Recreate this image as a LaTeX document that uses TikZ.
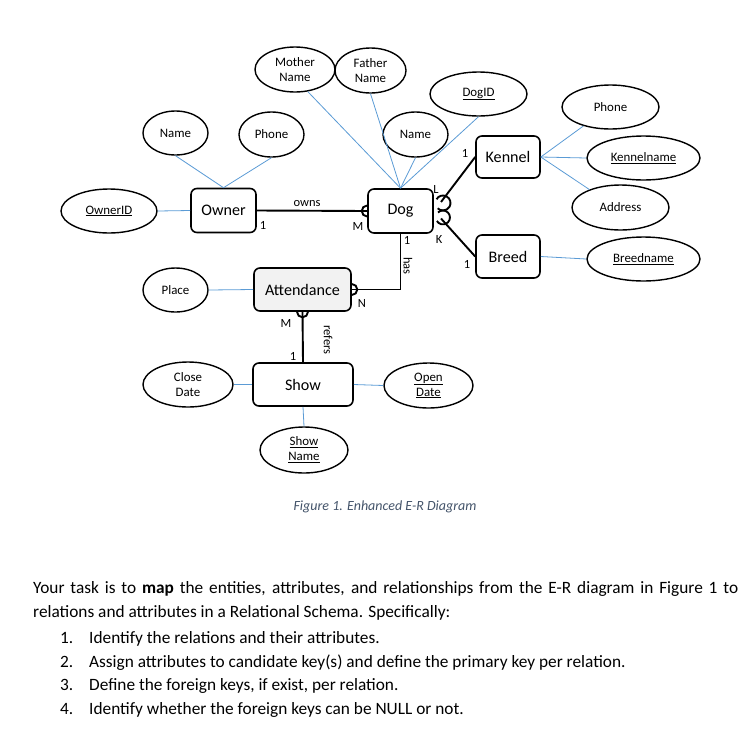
\documentclass[tikz,border=0pt]{standalone}
\usepackage{fontspec}
\setmainfont{Carlito}
\usetikzlibrary{shapes.geometric}
\definecolor{attrline}{HTML}{5B9BD5}
\definecolor{captionblue}{HTML}{44546A}
\definecolor{weakfill}{HTML}{F2F2F2}
\begin{document}
\begin{tikzpicture}[x=1pt,y=-1pt,
    entity/.style={draw,line width=1.6pt,rounded corners=6pt,inner sep=0pt,
      font=\fontsize{16.1}{18}\selectfont},
    attrib/.style={draw,ellipse,line width=1.4pt,inner sep=0pt,align=center,
      font=\fontsize{12.9}{15}\selectfont},
    attrlink/.style={draw=attrline,line width=0.8pt},
    rel/.style={draw,line width=1.9pt},
    card/.style={inner sep=0pt,font=\fontsize{12.5}{14}\selectfont},
    bodytext/.style={inner sep=0pt,anchor=base west,font=\fontsize{17.3}{24.3}\selectfont}]
\useasboundingbox (0,0) rectangle (743,734);%

% Drawing entity Owner
\node [entity,minimum width=65,minimum height=44] (owner) at (223.5,210.5) {Owner};%
% Drawing entity Dog
\node [entity,minimum width=65,minimum height=44] (dog) at (400.5,211) {Dog};%
% Drawing entity Kennel
\node [entity,minimum width=64,minimum height=42] (kennel) at (508,157) {Kennel};%
% Drawing entity Breed
\node [entity,minimum width=64,minimum height=43] (breed) at (508,256.5) {Breed};%
% Drawing entity Attendance
\node [entity,fill=weakfill,minimum width=97,minimum height=43] (att) at (302.5,289.5) {Attendance};%
% Drawing entity Show
\node [entity,minimum width=100,minimum height=43] (show) at (303,384.5) {Show};%

% Marking attributes of Owner
\node [attrib,minimum width=96,minimum height=44] (ownerid) at (109,211) {\underline{OwnerID}};%
\node [attrib,minimum width=65,minimum height=44] (oname) at (175.5,133) {Name};%
\node [attrib,minimum width=65,minimum height=45] (ophone) at (271.5,134.5) {Phone};%
\draw [attrlink] (ownerid.east) -- (owner.west);%
\draw [attrlink] (oname.south) -- (owner.north);%
\draw [attrlink] (ophone.south) -- (owner.north);%

% Marking attributes of Dog
\node [attrib,minimum width=80,minimum height=45] (mother) at (295,69.5) {Mother\\Name};%
\node [attrib,minimum width=71,minimum height=45] (father) at (370.5,70.5) {Father\\Name};%
\node [attrib,minimum width=65,minimum height=45] (dname) at (415.5,134.5) {Name};%
\node [attrib,minimum width=97,minimum height=44] (dogid) at (478.5,94) {\underline{DogID}};%
\draw [attrlink] (mother.-60) -- (dog.north);%
\draw [attrlink] (father.south) -- (dog.north);%
\draw [attrlink] (dname.south) -- (dog.north);%
\draw [attrlink] (dogid.south) -- (dog.north);%

% Marking attributes of Kennel
\node [attrib,minimum width=97,minimum height=44] (kphone) at (610.5,107) {Phone};%
\node [attrib,minimum width=113,minimum height=44] (kname) at (643.5,158) {\underline{Kennelname}};%
\node [attrib,minimum width=97,minimum height=45] (kaddr) at (620.5,207.5) {Address};%
\draw [attrlink] (kphone.-145) -- (kennel.east);%
\draw [attrlink] (kname.west) -- (kennel.east);%
\draw [attrlink] (kaddr.150) -- (kennel.east);%

% Marking attribute of Breed
\node [attrib,minimum width=113,minimum height=44] (bname) at (643.5,259) {\underline{Breedname}};%
\draw [attrlink] (breed.east) -- (bname.west);%

% Marking attribute of Attendance
\node [attrib,minimum width=65,minimum height=44] (place) at (175.5,290) {Place};%
\draw [attrlink] (place.east) -- (att.west);%

% Marking attributes of Show
\node [attrib,minimum width=90,minimum height=45] (close) at (188,384.5) {Close\\Date};%
\node [attrib,minimum width=89,minimum height=45] (open) at (428.5,385.5) {\underline{Open}\\\underline{Date}};%
\node [attrib,minimum width=88,minimum height=46] (sname) at (304,450) {\underline{Show}\\\underline{Name}};%
\draw [attrlink] (close.east) -- (show.west);%
\draw [attrlink] (show.east) -- (open.west);%
\draw [attrlink] (show.south) -- (sname.north);%

% Drawing relationship owns
\draw [rel] (owner.east) -- (dog.west);%
\draw [rel] (dog.west) ++(0,-5.5) arc (-90:-270:5.5);%
\node [card] (owns) at (307,204) {owns};%
\node [card] (owns1) at (263,225) {1};%
\node [card] (ownsM) at (358,226) {M};%

% Drawing relationships of Dog with Kennel and Breed
\coordinate (dogL) at (441,202);%
\coordinate (dogK) at (441,218.5);%
\draw [rel] (dogL) -- (kennel.west);%
\draw [rel] (dogK) -- (breed.west);%
\draw [rel] (436.5,199.25) arc (-150:135:7.5);%
\draw [rel] (438,212.5) arc (-135:150:7);%
\node [card] (kenL) at (436,189) {L};%
\node [card] (ken1) at (465,153) {1};%
\node [card] (breK) at (439,239) {K};%
\node [card] (bre1) at (467,264) {1};%

% Drawing relationship has
\draw [rel] (dog.south) |- (att.east);%
\draw [rel] (att.east) ++(0,-5.5) arc (-90:90:5.5);%
\node [card] (has1) at (407,240) {1};%
\node [card,rotate=-90] (has) at (408,266) {has};%
\node [card] (hasN) at (362,303) {N};%

% Drawing relationship refers
\draw [rel] (att.south) -- (show.north);%
\draw [rel] (att.south) ++(-5.5,0) arc (180:0:5.5);%
\node [card] (refM) at (286,323) {M};%
\node [card] (ref1) at (293,356) {1};%
\node [card,rotate=-90] (refers) at (328,340) {refers};%

% Marking caption
\node [inner sep=0pt,anchor=base,text=captionblue,font=\fontsize{14}{16}\selectfont\itshape] (caption) at (385,510) {Figure 1. Enhanced E-R Diagram};%

% Marking task text
\node [bodytext,text width=705pt,align=justify] (task) at (33,593) {Your task is to \textbf{map} the entities, attributes, and relationships from the E-R diagram in Figure 1 to\linebreak relations and attributes in a Relational Schema. Specifically:};%
\node [bodytext] (task1) at (60,643) {\makebox[29pt][l]{1.}Identify the relations and their attributes.};%
\node [bodytext] (task2) at (60,667) {\makebox[29pt][l]{2.}Assign attributes to candidate key(s) and define the primary key per relation.};%
\node [bodytext] (task3) at (60,690.5) {\makebox[29pt][l]{3.}Define the foreign keys, if exist, per relation.};%
\node [bodytext] (task4) at (60,714) {\makebox[29pt][l]{4.}Identify whether the foreign keys can be NULL or not.};%
\end{tikzpicture}
\end{document}
